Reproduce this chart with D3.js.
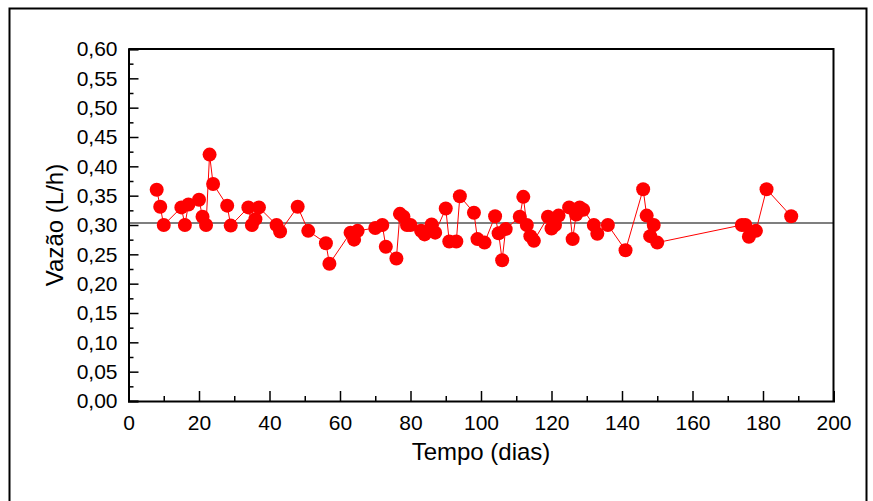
<!DOCTYPE html>
<html>
<head>
<meta charset="utf-8">
<script src="https://cdn.jsdelivr.net/npm/d3@7"></script>
<style>
  body { margin: 0; background: #fff; }
  svg { display: block; font-family: "Liberation Sans", Arial, sans-serif; }
</style>
</head>
<body>
<div id="chart"></div>
<script>
// chart data
var days = [8, 9, 10, 15, 16, 17, 20, 21, 22, 23, 24, 28, 29, 34, 35, 36, 37, 42, 43, 48,
    51, 56, 57, 63, 64, 65, 70, 72, 73, 76, 77, 78, 79, 80, 83, 84, 86, 87, 90, 91,
    93, 94, 98, 99, 101, 104, 105, 106, 107, 111, 112, 113, 114, 115, 119, 120, 121, 122, 125, 126,
    127, 128, 129, 132, 133, 136, 141, 146, 147, 148, 149, 150, 174, 175, 176, 178, 181, 188];
var flow = [0.360, 0.331, 0.300, 0.330, 0.300, 0.335, 0.343, 0.314, 0.300, 0.420, 0.370, 0.333, 0.299, 0.330, 0.300, 0.310, 0.330, 0.300, 0.289, 0.331,
    0.290, 0.269, 0.234, 0.287, 0.275, 0.290, 0.295, 0.300, 0.263, 0.243, 0.319, 0.314, 0.300, 0.300, 0.290, 0.284, 0.301, 0.287, 0.328, 0.272,
    0.272, 0.349, 0.321, 0.276, 0.270, 0.315, 0.286, 0.240, 0.293, 0.314, 0.348, 0.300, 0.281, 0.273, 0.314, 0.294, 0.300, 0.316, 0.330, 0.276,
    0.318, 0.330, 0.326, 0.300, 0.285, 0.300, 0.257, 0.361, 0.316, 0.281, 0.300, 0.270, 0.300, 0.300, 0.280, 0.290, 0.361, 0.315];
var meanFlow = 0.3034;
var xTicks = [0, 20, 40, 60, 80, 100, 120, 140, 160, 180, 200];
var yTicks = [0, 0.05, 0.10, 0.15, 0.20, 0.25, 0.30, 0.35, 0.40, 0.45, 0.50, 0.55, 0.60];

var W = 873, H = 501;
var margin = {top: 49, right: 39.5, bottom: 100, left: 128.5},
    width = W - margin.left - margin.right,
    height = H - margin.top - margin.bottom;

var svg = d3.select("#chart")
    .append("svg")
    .attr("width", W)
    .attr("height", H);

// outer frame
svg.append("path")
    .attr("d", "M9.5," + H + "V8.5H866.5V" + H)
    .attr("fill", "none")
    .attr("stroke", "#000")
    .attr("stroke-width", 2);

var g = svg.append("g")
    .attr("transform", "translate(" + margin.left + "," + margin.top + ")");

var x = d3.scaleLinear().domain([0, 200]).range([0, width]);
var y = d3.scaleLinear().domain([0, 0.6]).range([height, 0]);

var fmt = function(d) { return d3.format(".2f")(d).replace(".", ","); };

// minor ticks
var xMinor = d3.range(10, 200, 20);
var yMinor = d3.range(0.025, 0.6, 0.05);

g.append("g")
    .attr("transform", "translate(0," + height + ")")
    .call(d3.axisBottom(x).tickValues(xMinor).tickSize(-5).tickFormat(""))
    .call(function(a) { a.select(".domain").remove(); });
g.append("g")
    .call(d3.axisLeft(y).tickValues(yMinor).tickSize(-5).tickFormat(""))
    .call(function(a) { a.select(".domain").remove(); });

// major axes
var xAxis = g.append("g")
    .attr("transform", "translate(0," + height + ")")
    .call(d3.axisBottom(x).tickValues(xTicks).tickSize(-10).tickPadding(14).tickFormat(d3.format("d")));
var yAxis = g.append("g")
    .call(d3.axisLeft(y).tickValues(yTicks).tickSize(-10).tickPadding(11).tickFormat(fmt));

g.selectAll(".tick line").attr("stroke-width", 1.5);
g.selectAll(".domain").attr("stroke-width", 2);
g.selectAll(".tick text").attr("font-size", "21px").attr("fill", "#000")
    .attr("font-family", "Liberation Sans, Arial, sans-serif");

// top and right sides of the box
g.append("path")
    .attr("d", "M0,0H" + width + "V" + height)
    .attr("fill", "none")
    .attr("stroke", "#000")
    .attr("stroke-width", 2);

// mean line
g.append("line")
    .attr("x1", 0).attr("x2", width)
    .attr("y1", y(meanFlow)).attr("y2", y(meanFlow))
    .attr("stroke", "#000")
    .attr("stroke-width", 1.2);

// series
var pts = days.map(function(d, i) { return [d, flow[i]]; });

g.append("path")
    .datum(pts)
    .attr("fill", "none")
    .attr("stroke", "#ff0000")
    .attr("stroke-width", 1)
    .attr("d", d3.line().x(function(d) { return x(d[0]); }).y(function(d) { return y(d[1]); }));

g.selectAll("circle")
    .data(pts)
    .enter()
    .append("circle")
    .attr("cx", function(d) { return x(d[0]); })
    .attr("cy", function(d) { return y(d[1]); })
    .attr("r", 7)
    .attr("fill", "#ff0000");

// axis titles
svg.append("text")
    .attr("x", margin.left + width / 2)
    .attr("y", 460)
    .attr("text-anchor", "middle")
    .attr("font-size", "24px")
    .text("Tempo (dias)");

svg.append("text")
    .attr("transform", "translate(63," + (margin.top + height / 2) + ") rotate(-90)")
    .attr("text-anchor", "middle")
    .attr("font-size", "24px")
    .text("Vazão (L/h)");
</script>
</body>
</html>
